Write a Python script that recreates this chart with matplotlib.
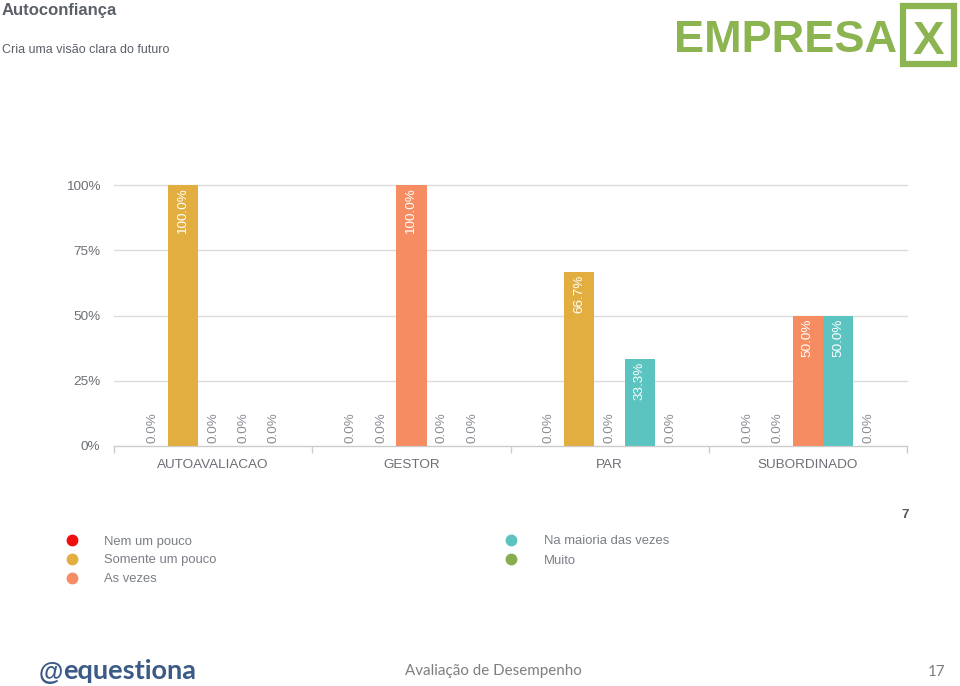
import matplotlib
matplotlib.use("Agg")
import matplotlib.pyplot as plt
from matplotlib.lines import Line2D
from matplotlib.patches import Rectangle
import numpy as np

categories = ['AUTOAVALIACAO', 'GESTOR', 'PAR', 'SUBORDINADO']
series_names = ['Nem um pouco', 'Somente um pouco', 'As vezes', 'Na maioria das vezes', 'Muito']
nem_um_pouco = [0.0, 0.0, 0.0, 0.0]
somente_um_pouco = [100.0, 0.0, 66.7, 0.0]
as_vezes = [0.0, 100.0, 0.0, 50.0]
na_maioria = [0.0, 0.0, 33.3, 50.0]
muito = [0.0, 0.0, 0.0, 0.0]
series_values = [nem_um_pouco, somente_um_pouco, as_vezes, na_maioria, muito]
colors = ['#f00f0f', '#e3ae40', '#f58c62', '#5bc4c1', '#86ad4e']
yticks = [0, 25, 50, 75, 100]
ytick_labels = ['0%', '25%', '50%', '75%', '100%']
respondents = '7'

plt.rcParams['font.family'] = ['Liberation Sans', 'DejaVu Sans']

W, H = 960, 686
fig = plt.figure(figsize=(9.6, 6.86), dpi=100)

def fx(px):
    return px / W

def fy(py):
    return 1 - py / H

ax = fig.add_axes([fx(114), fy(446), fx(907) - fx(114), fy(185) - fy(446)])

x = np.arange(len(categories))
w = 0.153
for i, (name, vals, c) in enumerate(zip(series_names, series_values, colors)):
    pos = x + (i - 2) * w
    ax.bar(pos, vals, width=w, color=c, zorder=3, linewidth=0)
    for p, v in zip(pos, vals):
        lab = f'{v:.1f}%'
        if v > 0:
            ax.text(p, v - 1.2, lab, rotation=90, ha='center', va='top',
                    color='white', fontsize=9.7, zorder=4)
        else:
            ax.text(p, 1.2, lab, rotation=90, ha='center', va='bottom',
                    color='#8a8f96', fontsize=9.7, zorder=4)

ax.set_xlim(-0.5, len(categories) - 0.5)
ax.set_ylim(0, 100)
ax.set_yticks(yticks)
ax.set_yticklabels(ytick_labels, color='#6b6f75', fontsize=9.7)
ax.set_xticks(x)
ax.set_xticklabels(categories, color='#6b6f75', fontsize=9.7)
ax.set_xticks(np.arange(-0.5, len(categories)), minor=True)
ax.tick_params(axis='x', which='major', length=0, pad=9)
ax.tick_params(axis='x', which='minor', length=5, color='#cccccc', width=1)
ax.tick_params(axis='y', length=0, pad=10)
ax.grid(axis='y', color='#dcdcdc', linewidth=1, zorder=0)
for s in ['top', 'right', 'left']:
    ax.spines[s].set_visible(False)
ax.spines['bottom'].set_color('#cccccc')
ax.spines['bottom'].set_zorder(5)
for gl in ax.get_ygridlines():
    gl.set_clip_on(False)

# Titles
fig.text(fx(2), fy(11), 'Autoconfiança', fontsize=12, fontweight='bold',
         color='#5b6068', ha='left', va='center')
fig.text(fx(2), fy(50), 'Cria uma visão clara do futuro', fontsize=9,
         color='#5b6068', ha='left', va='center')

# Logo EMPRESA X
green = '#8cb450'
fig.text(fx(674), fy(52), 'EMPRESA', fontsize=32.5, fontweight='bold',
         color=green, ha='left', va='baseline')
fig.add_artist(Rectangle((fx(903), fy(64)), fx(954) - fx(903), fy(6) - fy(64),
                         transform=fig.transFigure, fill=False,
                         edgecolor=green, linewidth=4.5))
fig.text(fx(928.5), fy(54), 'X', fontsize=34, fontweight='bold',
         color=green, ha='center', va='baseline')

# Legend
left_items = [0, 1, 2]
right_items = [3, 4]
rows = [540, 559, 578]
for r, idx in zip(rows, left_items):
    fig.add_artist(Line2D([fx(72)], [fy(r)], marker='o', markersize=7.5,
                          color=colors[idx], linestyle='none',
                          transform=fig.transFigure))
    fig.text(fx(104), fy(r), series_names[idx], fontsize=9.4, color='#7a7f86',
             ha='left', va='center_baseline')
for r, idx in zip(rows, right_items):
    fig.add_artist(Line2D([fx(511)], [fy(r)], marker='o', markersize=7.5,
                          color=colors[idx], linestyle='none',
                          transform=fig.transFigure))
    fig.text(fx(544), fy(r), series_names[idx], fontsize=9.4, color='#7a7f86',
             ha='left', va='center_baseline')

fig.text(fx(905), fy(514), respondents, fontsize=9.5, fontweight='bold',
         color='#555a60', ha='center', va='center_baseline')

# Footer
fig.text(fx(39), fy(670), '@', fontsize=18, fontweight='bold',
         color='#3b5a85', ha='left', va='center_baseline')
fig.text(fx(63), fy(669), 'equestiona', fontsize=19.5, fontweight='bold',
         color='#3b5a85', ha='left', va='center_baseline', family=['Lato', 'DejaVu Sans'])
fig.text(fx(405), fy(670), 'Avaliação de Desempenho', fontsize=10.9,
         color='#7f7f7f', ha='left', va='center_baseline', family=['Lato', 'DejaVu Sans'])
fig.text(fx(945), fy(670), '17', fontsize=10.9,
         color='#7f7f7f', ha='right', va='center_baseline', family=['Lato', 'DejaVu Sans'])

fig.savefig('out.png', dpi=100)
